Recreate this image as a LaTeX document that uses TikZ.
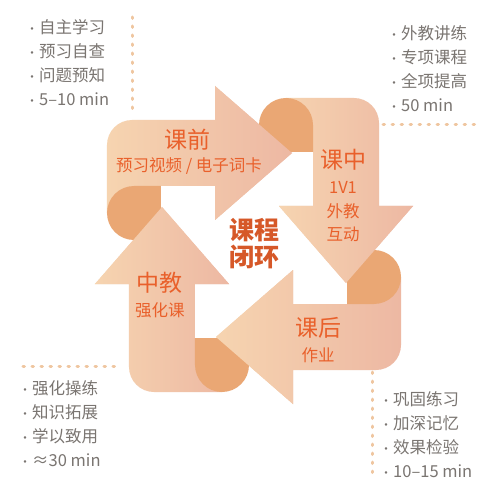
\documentclass[tikz,border=0pt]{standalone}
\usepackage{fontspec}
\setmainfont{Noto Sans CJK SC}
\usepackage{tikz}
\usetikzlibrary{positioning}
\usetikzlibrary{calc}

\definecolor{peach}{HTML}{F6D4B0}
\definecolor{blush}{HTML}{EDB8A3}
\definecolor{curl}{HTML}{EAA774}
\definecolor{tangerine}{HTML}{E9602B}
\definecolor{ash}{HTML}{7A7571}
\definecolor{trailc}{HTML}{EFC6A0}

\newcommand{\bul}{\makebox[14pt][c]{\fontsize{12}{12}\selectfont ·}}
\newcommand{\bandA}{(-39,59) -- (-39,25) -- (38,92) -- (-39,159) -- (-39,125) -- (-122,125) arc[start angle=90,end angle=180,radius=25] -- (-147,32) -- (-120,32) -- (-120,59) -- cycle}
\newcommand{\bandB}{(59,39) -- (25,39) -- (92,-38) -- (159,39) -- (125,39) -- (125,122) arc[start angle=0,end angle=90,radius=25] -- (32,147) -- (32,120) -- (59,120) -- cycle}
\newcommand{\bandC}{(39,-59) -- (39,-25) -- (-38,-92) -- (39,-159) -- (39,-125) -- (122,-125) arc[start angle=-90,end angle=0,radius=25] -- (147,-32) -- (120,-32) -- (120,-59) -- cycle}
\newcommand{\bandD}{(-59,-39) -- (-25,-39) -- (-92,38) -- (-159,-39) -- (-125,-39) -- (-125,-122) arc[start angle=180,end angle=270,radius=25] -- (-32,-147) -- (-32,-120) -- (-59,-120) -- cycle}

\tikzset{
  ribbon/.style={left color=peach, right color=blush},
  fold/.style={fill=curl},
  stage/.style={text=tangerine, font=\fontsize{23}{25}\selectfont, inner sep=0pt},
  detail/.style={text=tangerine, font=\fontsize{16.5}{23.5}\selectfont, inner sep=0pt, align=center},
  hub/.style={text=tangerine!92!black, font=\bfseries\fontsize{25}{27}\selectfont, inner sep=0pt, align=center},
  notes/.style={text=ash, font=\fontsize{16.5}{24}\selectfont, inner sep=0pt, align=left, anchor=west},
  trail/.style={trailc, line width=3pt, line cap=round, dash pattern=on 1.5pt off 7.5pt}
}

\begin{document}
\begin{tikzpicture}[x=1pt,y=1pt]
\useasboundingbox[fill=white] (-254,-242) rectangle (246,245);

\draw[trail] (-121,228) -- (-121,132);
\draw[trail] (129,120) -- (226,120);
\draw[trail] (-231,-121) -- (-134,-121);
\draw[trail] (118,-127) -- (118,-232);

\shade[ribbon] \bandA;
\shade[ribbon] \bandB;
\shade[ribbon] \bandC;
\shade[ribbon] \bandD;

\fill[fold] (-93,59) -- (-93,32) arc[start angle=0,end angle=-180,radius=27] arc[start angle=180,end angle=90,radius=27] -- cycle;
\fill[fold] (59,93) -- (32,93) arc[start angle=-90,end angle=-270,radius=27] arc[start angle=90,end angle=0,radius=27] -- cycle;
\fill[fold] (93,-59) -- (93,-32) arc[start angle=180,end angle=0,radius=27] arc[start angle=0,end angle=-90,radius=27] -- cycle;
\fill[fold] (-59,-93) -- (-32,-93) arc[start angle=90,end angle=-90,radius=27] arc[start angle=-90,end angle=-180,radius=27] -- cycle;

\begin{scope}
\clip (-39,25) -- (38,92) -- (-39,159) -- cycle;
\shade[ribbon] \bandA;
\end{scope}
\begin{scope}
\clip (25,39) -- (92,-38) -- (159,39) -- cycle;
\shade[ribbon] \bandB;
\end{scope}
\begin{scope}
\clip (39,-25) -- (-38,-92) -- (39,-159) -- cycle;
\shade[ribbon] \bandC;
\end{scope}
\begin{scope}
\clip (-25,-39) -- (-92,38) -- (-159,-39) -- cycle;
\shade[ribbon] \bandD;
\end{scope}

\node[stage] (pre) at (-66,105) {课前};
\node[detail] (presub) at (-65,79) {预习视频 / 电子词卡};
\node[stage] (mid) at (89,85) {课中};
\node[detail] (midsub) at (89,33) {1V1\\外教\\互动};
\node[stage] (post) at (64,-83) {课后};
\node[detail] (postsub) at (64,-110) {作业};
\node[stage] (cn) at (-94,-38) {中教};
\node[detail] (cnsub) at (-94,-65) {强化课};
\node[hub] (loop) at (0,1.5) {课程\\闭环};

\node[notes] (prelist) at (-229,182.5) {\bul 自主学习\\\bul 预习自查\\\bul 问题预知\\\bul 5–10 min};
\node[notes] (midlist) at (133,176) {\bul 外教讲练\\\bul 专项课程\\\bul 全项提高\\\bul 50 min};
\node[notes] (cnlist) at (-236,-179) {\bul 强化操练\\\bul 知识拓展\\\bul 学以致用\\\bul ≈30 min};
\node[notes] (postlist) at (125,-190) {\bul 巩固练习\\\bul 加深记忆\\\bul 效果检验\\\bul 10–15 min};
\end{tikzpicture}
\end{document}
